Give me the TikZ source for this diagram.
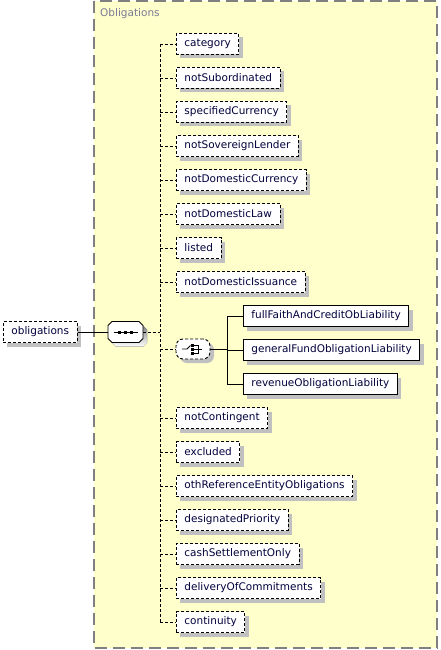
\documentclass[tikz,border=0pt]{standalone}
\usepackage{fontspec}
\setmainfont{DejaVu Sans}
\usetikzlibrary{shadows}
\definecolor{grpfill}{HTML}{FFFFCC}
\definecolor{grpline}{HTML}{808080}
\definecolor{grptext}{HTML}{7A7A96}
\definecolor{lbltext}{HTML}{00003C}
\definecolor{shade}{HTML}{C0C0C0}

\begin{document}
\begin{tikzpicture}[x=1pt, y=-1pt,
  elem/.style={rectangle, draw, fill=white, line width=0.9pt, minimum height=21pt, inner xsep=8pt, inner ysep=0pt, anchor=west, text=lbltext, font=\fontsize{10.5}{12}\selectfont, general shadow={fill=shade, shadow xshift=4pt, shadow yshift=-4pt}},
  optelem/.style={elem, dash pattern=on 3pt off 2pt},
  comp/.style={draw, fill=white, line width=0.9pt, minimum width=35pt, minimum height=21pt, inner sep=0pt, general shadow={fill=shade, shadow xshift=4pt, shadow yshift=-4pt}},
  conn/.style={line width=0.9pt},
  optconn/.style={conn, dash pattern=on 3pt off 2pt}
]
\useasboundingbox (0,0) rectangle (440,650);

% group box
\draw[grpline, line width=1.5pt, dash pattern=on 12pt off 6pt, fill=grpfill] (94,1) rectangle (437,648);
\node[anchor=west, text=grptext, font=\fontsize{10.5}{12}\selectfont, inner sep=0pt] (grplabel) at (100,14) {Obligations};

% root and compositors
\node[optelem] (obligations) at (3,332) {obligations};
\node[minimum width=35pt, minimum height=21pt, inner sep=0pt] (seq) at (125.5,332) {};
\begin{scope}[shift={(seq.center)}]
  \fill[shade, shift={(4,4)}] (-17.5,-6.5) -- (-13.5,-10.5) -- (13.5,-10.5) -- (17.5,-6.5) -- (17.5,6.5) -- (13.5,10.5) -- (-13.5,10.5) -- (-17.5,6.5) -- cycle;
  \filldraw[fill=white, line width=0.9pt] (-17.5,-6.5) -- (-13.5,-10.5) -- (13.5,-10.5) -- (17.5,-6.5) -- (17.5,6.5) -- (13.5,10.5) -- (-13.5,10.5) -- (-17.5,6.5) -- cycle;
\end{scope}
\node[comp, rounded corners=7pt, dash pattern=on 3pt off 2pt, minimum width=34pt, minimum height=20pt] (choice) at (193,349) {};
\coordinate (seqhub) at (160,332);
\coordinate (choicehub) at (227,349);

% sequence children
\node[optelem] (category) at (176,44) {category};
\node[optelem] (notSubordinated) at (176,78) {notSubordinated};
\node[optelem] (specifiedCurrency) at (176,112) {specifiedCurrency};
\node[optelem] (notSovereignLender) at (176,146) {notSovereignLender};
\node[optelem] (notDomesticCurrency) at (176,180) {notDomesticCurrency};
\node[optelem] (notDomesticLaw) at (176,214) {notDomesticLaw};
\node[optelem] (listed) at (176,248) {listed};
\node[optelem] (notDomesticIssuance) at (176,282) {notDomesticIssuance};
\node[optelem] (notContingent) at (176,418) {notContingent};
\node[optelem] (excluded) at (176,452) {excluded};
\node[optelem] (othReference) at (176,486) {othReferenceEntityObligations};
\node[optelem] (designatedPriority) at (176,520) {designatedPriority};
\node[optelem] (cashSettlementOnly) at (176,554) {cashSettlementOnly};
\node[optelem] (deliveryOfCommitments) at (176,588) {deliveryOfCommitments};
\node[optelem] (continuity) at (176,622) {continuity};

% choice children
\node[elem] (fullFaith) at (243,316) {fullFaithAndCreditObLiability};
\node[elem] (generalFund) at (243,350) {generalFundObligationLiability};
\node[elem] (revenue) at (243,384) {revenueObligationLiability};

% compositor symbols
\begin{scope}[shift={(seq.center)}]
  \draw[line width=0.9pt] (-12,0) -- (12,0);
  \fill (-7.5,-1.5) rectangle (-4.5,1.5);
  \fill (-1.5,-1.5) rectangle (1.5,1.5);
  \fill (4.5,-1.5) rectangle (7.5,1.5);
\end{scope}
\begin{scope}[shift={(choice.center)}]
  \draw[line width=0.9pt] (-11,0) -- (-6,0) -- (-2.5,-3.5);
  \fill (-2,-5.5) rectangle (1,-2.5);
  \fill (-2,-1.5) rectangle (1,1.5);
  \fill (-2,2.5) rectangle (1,5.5);
  \draw[line width=0.9pt] (1,-4) -- (5,-4) -- (5,4) -- (1,4);
  \draw[line width=0.9pt] (1,0) -- (9,0);
\end{scope}

% connectors
\draw[conn] (obligations.east) -- (seq.west);
\draw[optconn] (seq.east) -- (seqhub);
\draw[optconn] (seqhub |- category.west) -- (seqhub |- continuity.west);
\draw[optconn] (seqhub |- category.west) -- (category.west);
\draw[optconn] (seqhub |- notSubordinated.west) -- (notSubordinated.west);
\draw[optconn] (seqhub |- specifiedCurrency.west) -- (specifiedCurrency.west);
\draw[optconn] (seqhub |- notSovereignLender.west) -- (notSovereignLender.west);
\draw[optconn] (seqhub |- notDomesticCurrency.west) -- (notDomesticCurrency.west);
\draw[optconn] (seqhub |- notDomesticLaw.west) -- (notDomesticLaw.west);
\draw[optconn] (seqhub |- listed.west) -- (listed.west);
\draw[optconn] (seqhub |- notDomesticIssuance.west) -- (notDomesticIssuance.west);
\draw[optconn] (seqhub |- choice.west) -- (choice.west);
\draw[optconn] (seqhub |- notContingent.west) -- (notContingent.west);
\draw[optconn] (seqhub |- excluded.west) -- (excluded.west);
\draw[optconn] (seqhub |- othReference.west) -- (othReference.west);
\draw[optconn] (seqhub |- designatedPriority.west) -- (designatedPriority.west);
\draw[optconn] (seqhub |- cashSettlementOnly.west) -- (cashSettlementOnly.west);
\draw[optconn] (seqhub |- deliveryOfCommitments.west) -- (deliveryOfCommitments.west);
\draw[optconn] (seqhub |- continuity.west) -- (continuity.west);
\draw[conn] (choice.east) -- (choicehub);
\draw[conn] (choicehub |- fullFaith.west) -- (choicehub |- revenue.west);
\draw[conn] (choicehub |- fullFaith.west) -- (fullFaith.west);
\draw[conn] (choicehub |- generalFund.west) -- (generalFund.west);
\draw[conn] (choicehub |- revenue.west) -- (revenue.west);
\end{tikzpicture}
\end{document}
